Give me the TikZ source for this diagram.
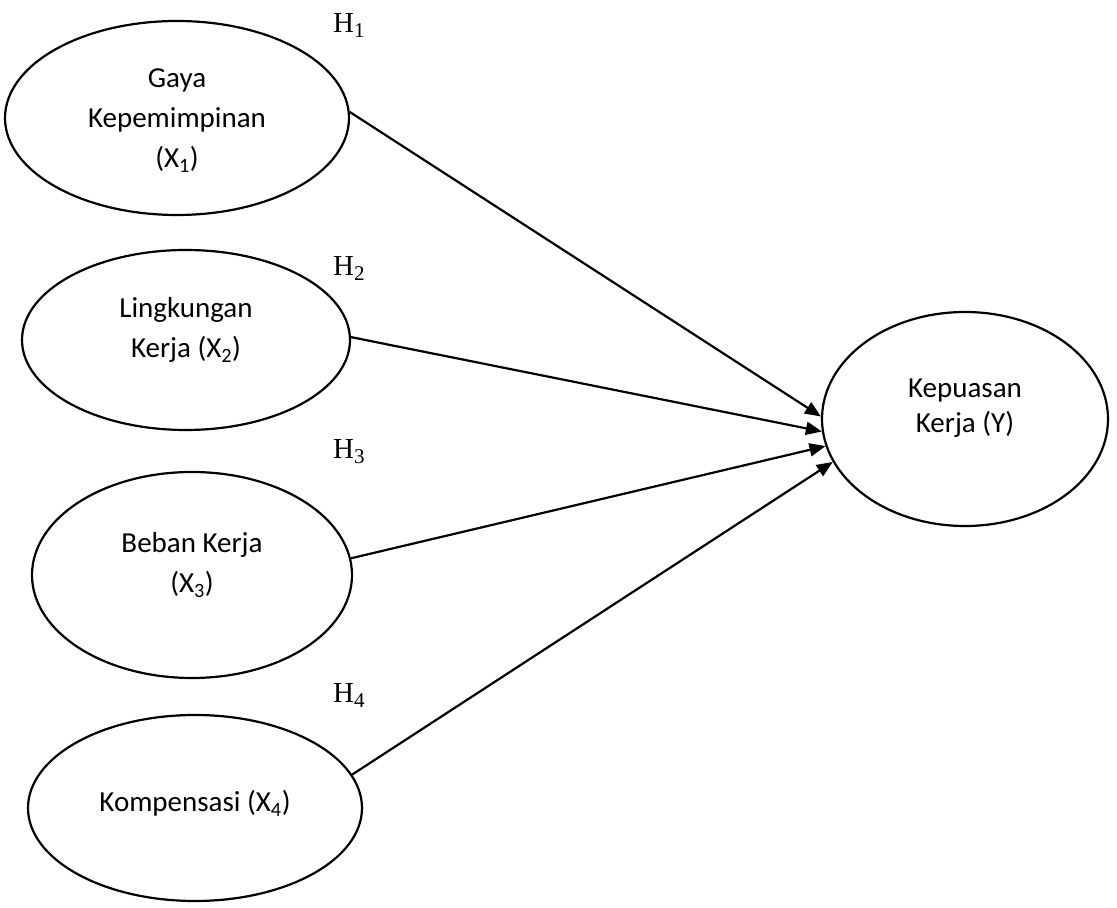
\documentclass[tikz,border=0pt]{standalone}
\usepackage{fontspec}
\setmainfont{Carlito}
\newfontfamily\hypfont{Liberation Serif}
\usetikzlibrary{arrows.meta,shapes.geometric,positioning}

\newcommand{\hsub}[1]{\raisebox{-5pt}{\fontsize{21}{21}\selectfont #1}}

\begin{document}
\begin{tikzpicture}[x=1pt,y=1pt]

	\tikzstyle{latent}=[ellipse,draw,line width=2.2pt,
		inner sep=0pt,align=center,text depth=10pt,
		font=\fontsize{29}{40}\selectfont]
	\tikzstyle{hyp}=[anchor=west,inner sep=0pt,font=\hypfont\fontsize{29}{30}\selectfont]
	\tikzstyle{arrow}=[-{Triangle[length=16pt,width=13pt]},line width=2.2pt]

	\useasboundingbox (0,0) rectangle (1117,908);

	\node[latent,minimum width=344pt,minimum height=194pt,text height=110pt] (gaya) at (177,790) {Gaya\\ Kepemimpinan\\ (X\textsubscript{1})};
	\node[latent,minimum width=328pt,minimum height=180pt,text height=46pt] (lingkungan) at (186,568) {Lingkungan\\ Kerja (X\textsubscript{2})};
	\node[latent,minimum width=320pt,minimum height=206pt,text height=46pt] (beban) at (192,333) {Beban Kerja\\ (X\textsubscript{3})};
	\node[latent,minimum width=334pt,minimum height=186pt,text height=18pt] (kompensasi) at (195,100) {Kompensasi (X\textsubscript{4})};
	\node[latent,minimum width=286pt,minimum height=214pt,text height=38pt,
		font=\fontsize{29}{35}\selectfont] (kepuasan) at (965,489) {Kepuasan\\ Kerja (Y)};

	\node[hyp] (h1) at (333,882) {H\hsub{1}};
	\node[hyp] (h2) at (333,639) {H\hsub{2}};
	\node[hyp] (h3) at (333,456) {H\hsub{3}};
	\node[hyp] (h4) at (333,212) {H\hsub{4}};

	\draw[arrow] (gaya.2) -- (kepuasan.179);
	\draw[arrow] (lingkungan.1) -- (kepuasan.185);
	\draw[arrow] (beban.6) -- (kepuasan.191);
	\draw[arrow] (kompensasi.12) -- (kepuasan.198);

\end{tikzpicture}
\end{document}
